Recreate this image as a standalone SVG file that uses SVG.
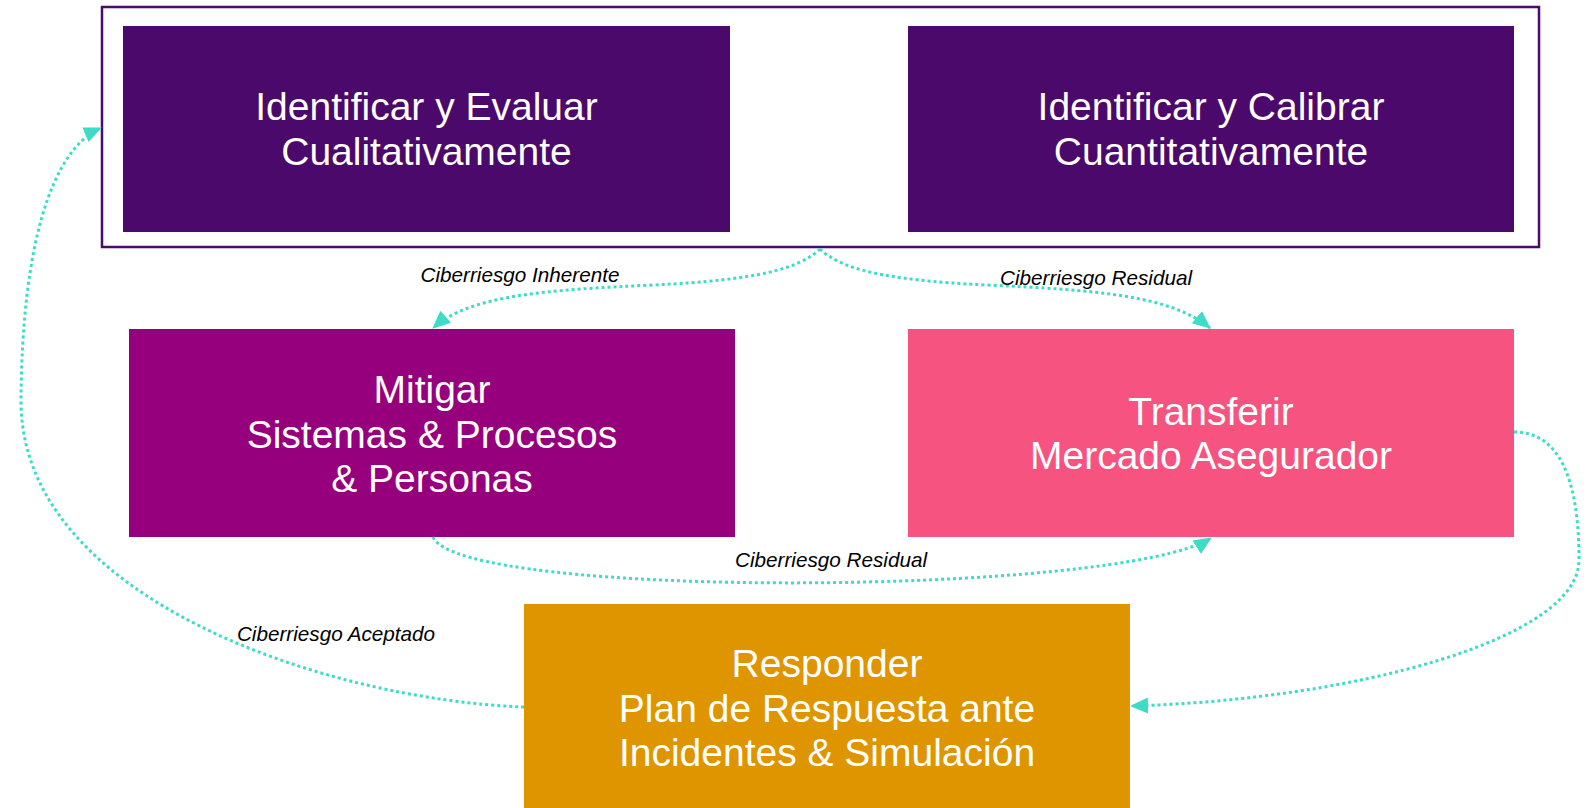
<svg xmlns="http://www.w3.org/2000/svg" width="1596" height="808" viewBox="0 0 1596 808">
<style>
.box text{font-family:"Liberation Sans",Arial,sans-serif;font-size:39px;fill:#ffffff;text-anchor:middle}
.lbl{font-family:"Liberation Sans",Arial,sans-serif;font-size:20.7px;font-style:italic;fill:#000000;text-anchor:middle}
.edge{fill:none;stroke:#3ddcc8;stroke-width:3;stroke-dasharray:3 3}
</style>
<defs>
<marker id="arr" markerUnits="userSpaceOnUse" markerWidth="20" markerHeight="18" refX="17" refY="8" orient="auto">
<path d="M0,0 L18,8 L0,16 Z" fill="#3ddcc8"/>
</marker>
</defs>
<rect x="0" y="0" width="1596" height="808" fill="#ffffff"/>
<g id="group-identify">
<rect x="102" y="7" width="1437" height="240" fill="none" stroke="#4b0a6c" stroke-width="2.5"/>
</g>
<g id="node-cualitativo" class="box">
<rect x="123" y="26" width="607" height="206" fill="#4a096b"/>
<text x="426.5" y="120">Identificar y Evaluar</text>
<text x="426.5" y="165">Cualitativamente</text>
</g>
<g id="node-cuantitativo" class="box">
<rect x="908" y="26" width="606" height="206" fill="#4a096b"/>
<text x="1211" y="120">Identificar y Calibrar</text>
<text x="1211" y="165">Cuantitativamente</text>
</g>
<g id="node-mitigar" class="box">
<rect x="129" y="329" width="606" height="208" fill="#97007d"/>
<text x="432" y="403">Mitigar</text>
<text x="432" y="448">Sistemas &amp; Procesos</text>
<text x="432" y="492">&amp; Personas</text>
</g>
<g id="node-transferir" class="box">
<rect x="908" y="329" width="606" height="208" fill="#f65380"/>
<text x="1211" y="425">Transferir</text>
<text x="1211" y="469">Mercado Asegurador</text>
</g>
<g id="node-responder" class="box">
<rect x="524" y="604" width="606" height="204" fill="#df9500"/>
<text x="827" y="677">Responder</text>
<text x="827" y="722">Plan de Respuesta ante</text>
<text x="827" y="766">Incidentes &amp; Simulación</text>
</g>
<g id="connectors">
<path class="edge" d="M820,249 C800,268 760,280 653,285 S470,295 433,328" marker-end="url(#arr)"/>
<path class="edge" d="M820,249 C840,268 880,280 987,285 S1170,295 1210,328" marker-end="url(#arr)"/>
<path class="edge" d="M433,537 C460,600 1120,596 1211,538" marker-end="url(#arr)"/>
<path class="edge" d="M1514,432 C1560,432 1579,480 1579,560 C1579,640 1350,700 1131,706" marker-end="url(#arr)"/>
<path class="edge" d="M524,707 C330,700 20,600 21,400 C22,250 50,150 101,128" marker-end="url(#arr)"/>
<text class="lbl" x="520" y="282">Ciberriesgo Inherente</text>
<text class="lbl" x="1096" y="285">Ciberriesgo Residual</text>
<text class="lbl" x="831" y="567">Ciberriesgo Residual</text>
<text class="lbl" x="336" y="641">Ciberriesgo Aceptado</text>
</g>
</svg>
